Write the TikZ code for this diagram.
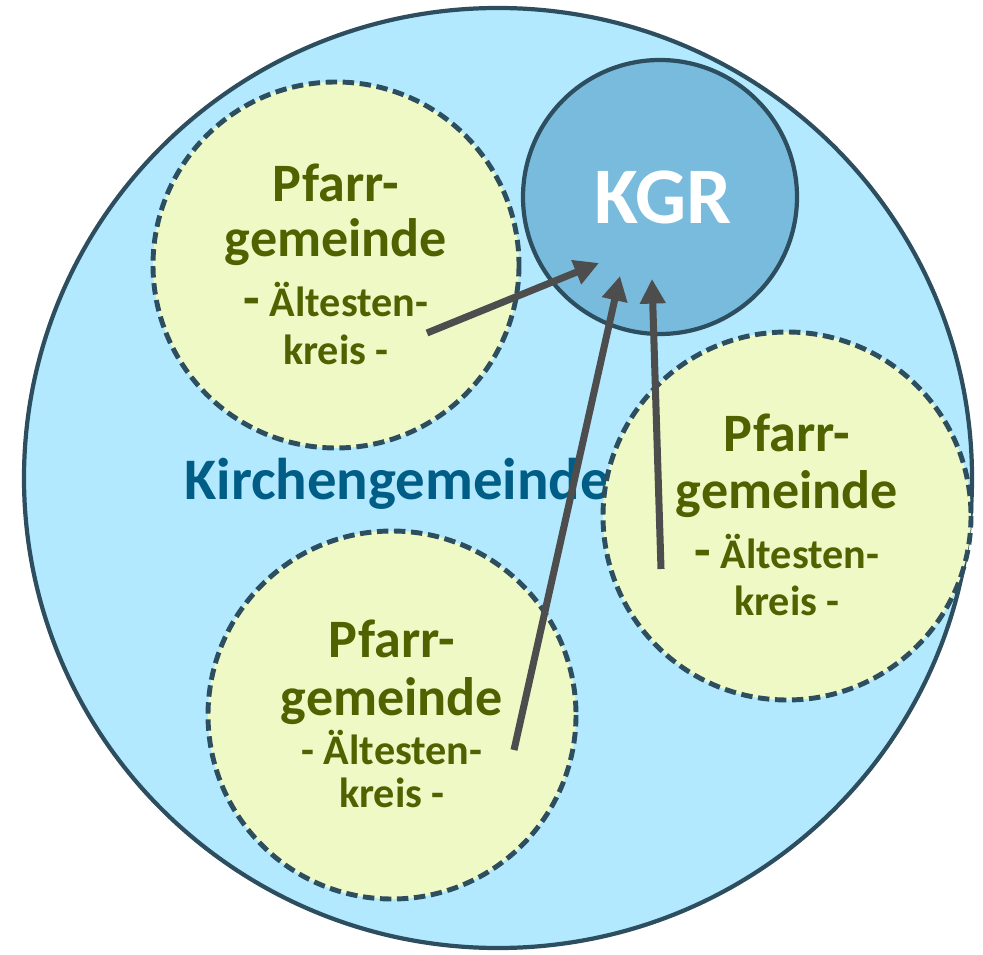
\documentclass[tikz,border=0pt]{standalone}
\usepackage{fontspec}
\setmainfont{Carlito}
\usetikzlibrary{arrows.meta}
\definecolor{outerfill}{HTML}{B2E9FF}
\definecolor{strokec}{HTML}{2D4E5F}
\definecolor{kgrfill}{HTML}{78BBDC}
\definecolor{pfill}{HTML}{EEF9C6}
\definecolor{ptext}{HTML}{4E6200}
\definecolor{ktext}{HTML}{005E86}
\definecolor{arr}{HTML}{4D4D4D}
\newcommand{\bigdash}{{\fontsize{30.8}{34}\selectfont -}}
\tikzset{
  pcircle/.style={draw=strokec, fill=pfill, line width=2.8pt, dash pattern=on 6.5pt off 3.2pt},
  big/.style={text=ptext, font=\fontsize{30.8}{34}\selectfont\bfseries, anchor=base, inner sep=0pt},
  small/.style={text=ptext, font=\fontsize{24}{27}\selectfont\bfseries, anchor=base, inner sep=0pt},
  conn/.style={draw=arr, line width=4pt, -{Triangle[length=14pt,width=14pt]}}
}
\begin{document}
\begin{tikzpicture}[x=0.02cm, y=-0.02cm]
\useasboundingbox (0,0) rectangle (983,955);
% outer
\draw[draw=strokec, fill=outerfill, line width=2.4pt] (498,478) ellipse [x radius=474, y radius=470];
\node[text=ktext, font=\fontsize{33.5}{38}\selectfont\bfseries, anchor=base west, inner sep=0pt] (kg) at (184,500) {Kirchengemeinde};
% KGR
\draw[draw=strokec, fill=kgrfill, line width=2.4pt] (660,197) circle [radius=137];
\node[text=white, font=\fontsize{45.7}{50}\selectfont\bfseries, anchor=base, inner sep=0pt] (kgr) at (663,224) {KGR};
% Pfarrgemeinde circles
\draw[pcircle] (336,265) circle [radius=183];
\node[big] (a1) at (336,202) {Pfarr-};
\node[big] (a2) at (336,257) {gemeinde};
\node[small] (a3) at (336,317) {\bigdash\ Ältesten-};
\node[small] (a4) at (336,365) {kreis -};

\draw[pcircle] (787,516) circle [radius=184];
\node[big] (b1) at (787,452) {Pfarr-};
\node[big] (b2) at (787,509) {gemeinde};
\node[small] (b3) at (787,568) {\bigdash\ Ältesten-};
\node[small] (b4) at (787,615) {kreis -};

\draw[pcircle] (392,715) circle [radius=184];
\node[big] (c1) at (392,657) {Pfarr-};
\node[big] (c2) at (392,715) {gemeinde};
\node[small] (c3) at (392,764) {- Ältesten-};
\node[small] (c4) at (392,807) {kreis -};
% arrow ends
\coordinate (s1) at (427,333);
\coordinate (t1) at (599,263);
\coordinate (s2) at (514,750);
\coordinate (t2) at (620,276);
\coordinate (s3) at (661,569);
\coordinate (t3) at (652,279);
\draw[conn] (s1) -- (t1);
\draw[conn] (s2) -- (t2);
\draw[conn] (s3) -- (t3);
\end{tikzpicture}
\end{document}
